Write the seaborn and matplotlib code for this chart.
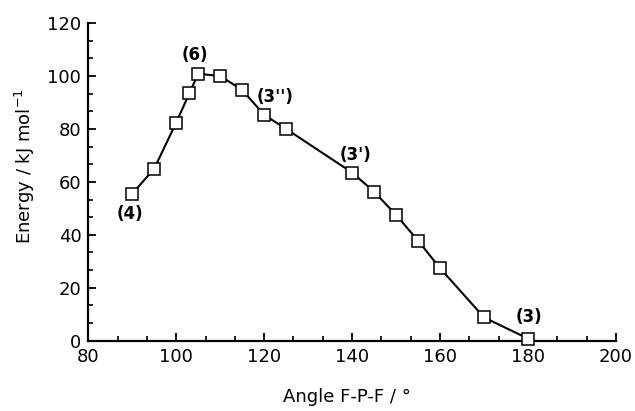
import matplotlib
matplotlib.use("Agg")
import matplotlib.pyplot as plt
import seaborn as sns
import pandas as pd
from matplotlib.ticker import MultipleLocator, AutoMinorLocator

angles = [90, 95, 100, 103, 105, 110, 115, 120, 125, 140, 145, 150, 155, 160, 170, 180]
energies = [55.5, 65, 82.4, 93.5, 100.8, 100, 94.7, 85.3, 80, 63.5, 56.3, 47.5, 37.8, 27.4, 8.8, 0.8]
labels = ["(4)", "(6)", "(3'')", "(3')", "(3)"]
label_x = [89.5, 104.2, 122.5, 140.8, 180.2]
label_y = [48, 108, 92, 70, 9]

sns.set_theme(style="ticks")
plt.rcParams['font.family'] = ['DejaVu Sans']
plt.rcParams['text.color'] = 'black'
plt.rcParams['axes.labelcolor'] = 'black'

df = pd.DataFrame({"angle": angles, "energy": energies})

fig = plt.figure(figsize=(6.35, 4.11), dpi=100)
ax = fig.add_axes([0.139, 0.171, 0.831, 0.773])
sns.lineplot(data=df, x="angle", y="energy", ax=ax, color="black", lw=1.5,
             marker="s", markersize=8.5, markerfacecolor="white",
             markeredgecolor="black", markeredgewidth=1.1, sort=False,
             clip_on=False, zorder=5)

ax.set_xlim(80, 200)
ax.set_ylim(0, 120)
ax.xaxis.set_major_locator(MultipleLocator(20))
ax.yaxis.set_major_locator(MultipleLocator(20))
ax.xaxis.set_minor_locator(AutoMinorLocator(3))
ax.yaxis.set_minor_locator(AutoMinorLocator(3))
ax.tick_params(which="major", direction="in", length=6, width=1.3, labelsize=13, colors="black", pad=5)
ax.tick_params(which="minor", direction="in", length=3.5, width=1.2, colors="black")
for s in ["top", "right"]:
    ax.spines[s].set_visible(False)
for s in ["left", "bottom"]:
    ax.spines[s].set_linewidth(1.6)
    ax.spines[s].set_color("black")

ax.set_xlabel("Angle F-P-F / °", fontsize=13, color="black")
ax.set_ylabel("Energy / kJ mol$^{-1}$", fontsize=13, color="black")
ax.xaxis.set_label_coords(0.49, -0.15)
ax.yaxis.set_label_coords(-0.097, 0.55)

for t, x, y in zip(labels, label_x, label_y):
    ax.text(x, y, t, fontsize=12, fontweight="bold", ha="center", va="center", color="black")

fig.savefig("out.png", dpi=100)
